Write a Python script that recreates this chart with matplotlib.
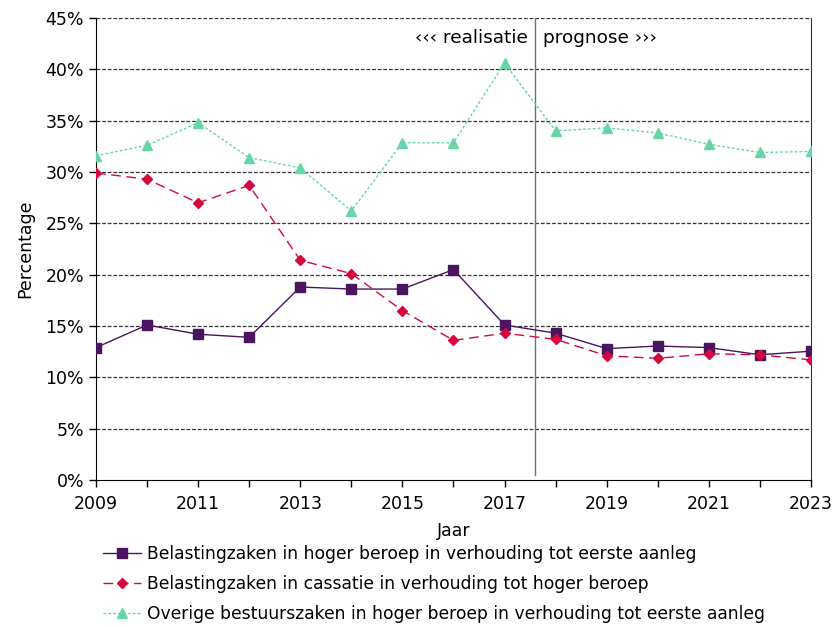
import matplotlib.pyplot as plt
from matplotlib.ticker import FuncFormatter, MultipleLocator, FixedLocator

# Jaren en percentages per reeks
jaren = list(range(2009, 2024))
belasting_hb = [12.9, 15.1, 14.2, 13.9, 18.8, 18.6, 18.6, 20.5, 15.1, 14.3, 12.8, 13.05, 12.9, 12.2, 12.55]
belasting_cassatie = [29.9, 29.3, 27.0, 28.7, 21.4, 20.1, 16.5, 13.6, 14.3, 13.7, 12.1, 11.85, 12.3, 12.2, 11.7]
overig_hb = [31.6, 32.6, 34.8, 31.4, 30.4, 26.2, 32.85, 32.85, 40.6, 34.0, 34.3, 33.8, 32.7, 31.9, 32.0]

labels = [
    "Belastingzaken in hoger beroep in verhouding tot eerste aanleg",
    "Belastingzaken in cassatie in verhouding tot hoger beroep",
    "Overige bestuurszaken in hoger beroep in verhouding tot eerste aanleg",
]
grens = 2017.6  # scheiding realisatie / prognose

plt.rcParams['font.family'] = 'DejaVu Sans'

fig = plt.figure(figsize=(8.36, 6.27), dpi=100)
ax = fig.add_axes([0.1148, 0.2344, 0.8553, 0.7369])

l1, = ax.plot(jaren, belasting_hb, color='#4a145e', lw=1.0, ls='-',
              marker='s', ms=7, label=labels[0], zorder=4)
l2, = ax.plot(jaren, belasting_cassatie, color='#d4083f', lw=1.0, ls=(0, (7, 4)),
              marker='D', ms=5.5, label=labels[1], zorder=4)
l3, = ax.plot(jaren, overig_hb, color='#66d6a6', lw=1.0, ls=(0, (2, 1.5)),
              marker='^', ms=7.5, label=labels[2], zorder=3)

ax.axvline(grens, ymin=0.01, ymax=1, color='#707070', lw=1.0, zorder=2)
ax.text(grens - 0.15, 43.1, '‹‹‹ realisatie', ha='right', va='center', fontsize=13.3)
ax.text(grens + 0.15, 43.1, 'prognose ›››', ha='left', va='center', fontsize=13.3)

ax.set_xlim(2009, 2023)
ax.set_ylim(0, 45)
ax.xaxis.set_major_locator(FixedLocator(jaren[::2]))
ax.xaxis.set_minor_locator(MultipleLocator(1))
ax.yaxis.set_major_locator(MultipleLocator(5))
ax.yaxis.set_major_formatter(FuncFormatter(lambda v, p: f"{v:.0f}%"))

for y in range(5, 50, 5):
    ax.axhline(y, color='#333333', lw=0.9, ls=(0, (3, 1.5)), zorder=1)

ax.spines['top'].set_visible(False)
ax.spines['right'].set_color('#333333')
ax.tick_params(axis='both', which='both', direction='out', labelsize=12.5, width=1)
ax.tick_params(which='major', length=5)
ax.tick_params(which='minor', length=5)
ax.tick_params(axis='x', pad=6)

ax.set_xlabel('Jaar', fontsize=12.5, labelpad=6)
ax.set_ylabel('Percentage', fontsize=12.5, labelpad=8)

fig.legend(handles=[l1, l2, l3], loc='upper left', bbox_to_anchor=(0.115, 0.141),
           frameon=False, fontsize=12.3, handlelength=2.2, handletextpad=0.4,
           labelspacing=0.68, borderaxespad=0)

fig.savefig('out.png', dpi=100)
